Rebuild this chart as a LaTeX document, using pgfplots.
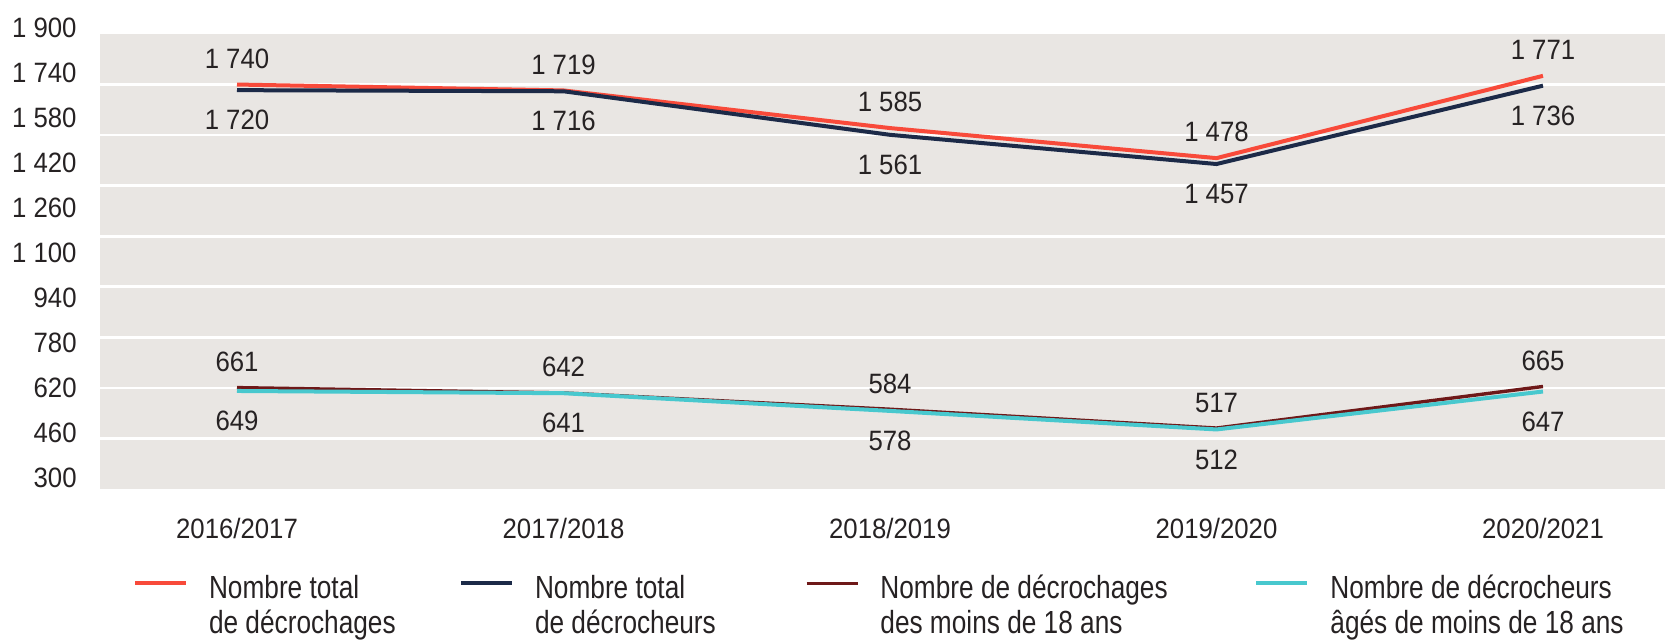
\documentclass[border=0pt]{standalone}
\usepackage{fontspec}
\setmainfont{Liberation Sans}
\newfontfamily\narrowfont[FakeStretch=0.82]{Liberation Sans}
\newfontfamily\numfont[FakeStretch=0.92]{Liberation Sans}
\usepackage{pgfplots}
\pgfplotsset{compat=1.18}
\definecolor{bggray}{HTML}{E9E6E3}
\definecolor{cRed}{HTML}{F84A3A}
\definecolor{cNavy}{HTML}{1C2A48}
\definecolor{cMaroon}{HTML}{6E1818}
\definecolor{cCyan}{HTML}{48C8CE}
\definecolor{textcol}{HTML}{262223}
\begin{document}
\begin{tikzpicture}
\useasboundingbox (0,0) rectangle (832.5pt,320.5pt);
\begin{axis}[
  at={(50pt,76pt)}, anchor=south west,
  width=782.5pt, height=227.5pt, scale only axis,
  xmin=-0.4196, xmax=4.3737, ymin=300, ymax=1920,
  axis line style={draw=none},
  axis background/.style={fill=bggray},
  major tick length=0pt,
  xtick={0,1,2,3,4},
  xticklabels={2016/2017,2017/2018,2018/2019,2019/2020,2020/2021},
  ytick={311.5,471.5,631.5,791.5,951.5,1111.5,1271.5,1431.5,1591.5,1751.5,1911.5},
  yticklabels={300,460,620,780,940,1 100,1 260,1 420,1 580,1 740,1 900},
  yticklabel style={anchor=east, inner sep=0pt, xshift=-11.5pt, yshift=4.2pt},
  xticklabel style={anchor=center, inner sep=0pt, yshift=-19.5pt},
  extra y ticks={480,660,840,1020,1200,1380,1560,1740},
  extra y tick labels={},
  extra y tick style={grid=major, major grid style={white, line width=1.3pt}},
  tick label style={font=\numfont\fontsize{14pt}{16pt}\selectfont, text=textcol},
  /pgf/number format/1000 sep={\ },
  /pgf/number format/assume math mode=true,
  every node near coord/.append style={font=\numfont\fontsize{14pt}{16pt}\selectfont, text=textcol, inner sep=0pt},
  legend columns=4,
  legend cell align=left,
  legend style={at={(0.0211,-0.189)}, anchor=north west, draw=none, fill=none,
    inner sep=0pt, outer sep=0pt, column sep=0pt, row sep=4.25pt,
    font=\narrowfont\fontsize{16pt}{18.5pt}\selectfont, text=textcol,
    nodes={inner sep=0pt}},
  legend image code/.code={\draw[#1] (0pt,2.5pt) -- (25.5pt,2.5pt);},
]
\addplot[cRed, line width=2pt, nodes near coords, point meta=y,
  nodes near coords align={above},
  every node near coord/.append style={yshift=7pt}]
  coordinates {(0,1740) (1,1719) (2,1585) (3,1478) (4,1771)};
\addlegendentry{\makebox[135.5pt][l]{\hspace{10.5pt}Nombre total}}
\addplot[cNavy, line width=2pt, nodes near coords, point meta=y,
  nodes near coords align={below},
  every node near coord/.append style={yshift=-9pt}]
  coordinates {(0,1720) (1,1716) (2,1561) (3,1457) (4,1736)};
\addlegendentry{\makebox[145.5pt][l]{\hspace{10.5pt}Nombre total}}
\addplot[cMaroon, line width=1.7pt, nodes near coords, point meta=y,
  nodes near coords align={above},
  every node near coord/.append style={yshift=7pt}]
  coordinates {(0,661) (1,642) (2,584) (3,517) (4,665)};
\addlegendentry{\makebox[197.5pt][l]{\hspace{10.5pt}Nombre de décrochages}}
\addplot[cCyan, line width=2pt, nodes near coords, point meta=y,
  nodes near coords align={below},
  every node near coord/.append style={yshift=-9pt}]
  coordinates {(0,649) (1,641) (2,578) (3,512) (4,647)};
\addlegendentry{\hspace{10.5pt}Nombre de décrocheurs}
\addlegendimage{empty legend}
\addlegendentry{\hspace{10.5pt}de décrochages}
\addlegendimage{empty legend}
\addlegendentry{\hspace{10.5pt}de décrocheurs}
\addlegendimage{empty legend}
\addlegendentry{\hspace{10.5pt}des moins de 18 ans}
\addlegendimage{empty legend}
\addlegendentry{\hspace{10.5pt}âgés de moins de 18 ans}
\end{axis}
\end{tikzpicture}
\end{document}
